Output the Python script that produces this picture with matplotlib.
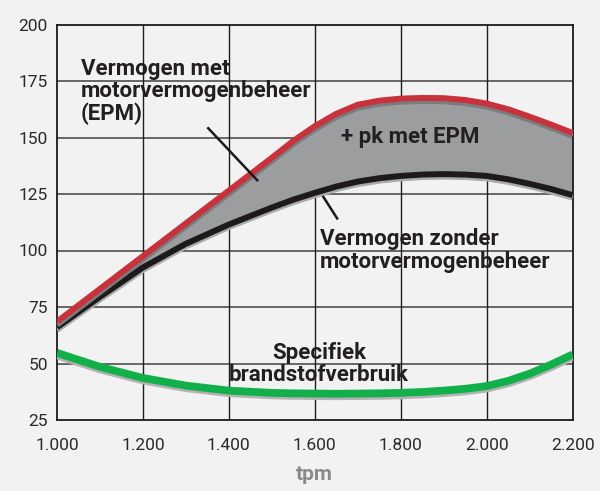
import matplotlib
matplotlib.use('Agg')
import matplotlib.pyplot as plt
import matplotlib.patheffects as pe

# toerental (tpm) en uitgelezen waarden
rpm = [1000, 1100, 1200, 1300, 1400, 1500, 1550, 1600, 1650, 1700, 1750, 1800,
       1850, 1900, 1950, 2000, 2050, 2100, 2150, 2200]
pk_met_epm = [68.5, 83, 97.5, 112, 126.5, 141, 148.5, 155, 160.5, 164.5, 166.3, 167.2,
              167.5, 167.4, 166.6, 165, 162.5, 159.2, 155.7, 152]
pk_zonder_epm = [66, 79.5, 92.5, 103, 111.5, 119, 122.5, 125.5, 128.3, 130.5, 132, 133,
                 133.6, 133.8, 133.6, 133, 131.5, 129.5, 127.2, 124.5]
verbruik = [54.7, 48.5, 43.6, 40.2, 38, 37, 36.8, 36.7, 36.6, 36.7, 36.8, 37,
            37.4, 38, 38.8, 40, 42.3, 45.5, 49.5, 54]

xticks = [1000, 1200, 1400, 1600, 1800, 2000, 2200]
xlabels = ['1.000', '1.200', '1.400', '1.600', '1.800', '2.000', '2.200']
yticks = [25, 50, 75, 100, 125, 150, 175, 200]

bg = '#f2f2f2'
plt.rcParams['font.family'] = ['Roboto', 'DejaVu Sans']

fig = plt.figure(figsize=(6, 4.91), dpi=100, facecolor=bg)
ax = fig.add_axes([57 / 600, 71 / 491, 515.6 / 600, 395.5 / 491])
ax.set_facecolor(bg)
ax.set_xlim(1000, 2200)
ax.set_ylim(25, 200)

# raster
for y in yticks[1:-1]:
    ax.axhline(y, color='#5c5c5c', lw=1.3, zorder=1)
for x in xticks[1:-1]:
    ax.axvline(x, color='#1e1e1e', lw=1.0, zorder=1)
for s in ax.spines.values():
    s.set_color('#1a1a1a')
    s.set_linewidth(1.3)

# band tussen beide vermogenscurves
ax.fill_between(rpm, pk_zonder_epm, pk_met_epm, color='#9c9d9f', lw=0, zorder=2)

ax.plot(rpm, pk_zonder_epm, color='#1e1a1b', lw=4.3, solid_capstyle='butt', zorder=3,
        path_effects=[pe.SimpleLineShadow(offset=(0, -1.8), shadow_color='#a9aaac', alpha=1),
                      pe.Normal()])
ax.plot(rpm, pk_met_epm, color='#c8323c', lw=4.3, solid_capstyle='butt', zorder=4,
        path_effects=[pe.SimpleLineShadow(offset=(0, -2.2), shadow_color='#7b7c7e', alpha=1),
                      pe.Normal()])
ax.plot(rpm, verbruik, color='#12b04a', lw=5.6, solid_capstyle='butt', zorder=4,
        path_effects=[pe.SimpleLineShadow(offset=(0, -1.8), shadow_color='#b2b2b4', alpha=1),
                      pe.Normal()])

ax.set_xticks(xticks)
ax.set_xticklabels(xlabels)
ax.set_yticks(yticks)
ax.tick_params(length=0, labelsize=12.5, labelcolor='#2a2a2a')
ax.tick_params(axis='y', pad=6.5)
ax.tick_params(axis='x', pad=13)

fig.text(314 / 600, 1 - 475 / 491, 'tpm', ha='center', va='center',
         fontsize=15, fontweight='bold', color='#8a8a8a')

tk = dict(fontsize=16, fontweight='bold', color='#231f20', zorder=6, linespacing=1.03)
ax.text(1056, 185.3, 'Vermogen met\nmotorvermogenbeheer\n(EPM)', ha='left', va='top', **tk)
ax.text(1612, 109.9, 'Vermogen zonder\nmotorvermogenbeheer', ha='left', va='top', **tk)
ax.text(1661, 147.5, '+ pk met EPM', ha='left', va='baseline', **tk)
ax.text(1610, 59.7, 'Specifiek\nbrandstofverbruik', ha='center', va='top',
        multialignment='center', **tk)

# aanwijslijnen
ax.plot([1352, 1466], [154.1, 131.1], color='#1a1a1a', lw=1.8, zorder=5)
ax.plot([1620, 1652], [123.7, 114.2], color='#1a1a1a', lw=1.8, zorder=5)

fig.savefig('out.png', dpi=100, facecolor=bg)
